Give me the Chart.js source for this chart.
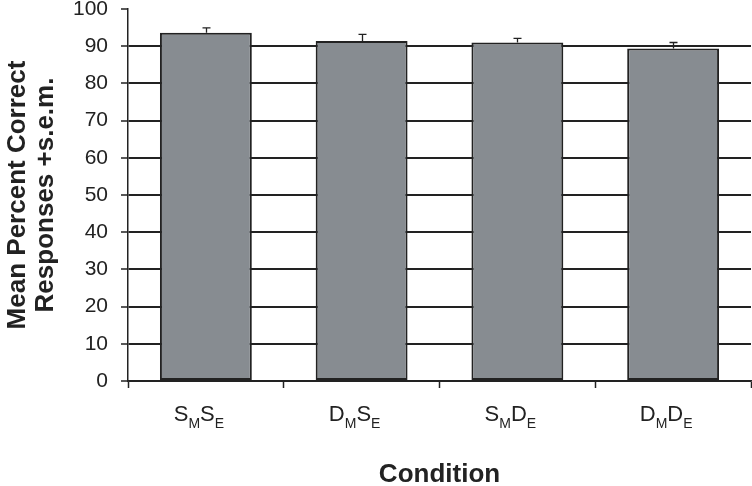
<!DOCTYPE html>
<html>
<head>
<meta charset="utf-8">
<script src="https://cdn.jsdelivr.net/npm/chart.js@4/dist/chart.umd.min.js"></script>
<style>
html,body{margin:0;padding:0;background:#fff;}
#wrap{width:752px;height:486px;position:relative;}
</style>
</head>
<body>
<div id="wrap"><canvas id="c" width="752" height="486"></canvas></div>
<script>
// Categories: letter followed by _X means subscript X
const categories = ['S_MS_E', 'D_MS_E', 'S_MD_E', 'D_MD_E'];
const meanCorrect = [93.6, 91.4, 91.0, 89.4];
const semValues = [1.3, 1.8, 1.1, 1.6];
const yTicks = [0, 10, 20, 30, 40, 50, 60, 70, 80, 90, 100];
const yTitle = ['Mean Percent Correct', 'Responses +s.e.m.'];
const xTitle = 'Condition';

const FONT = 'Liberation Sans, Arial, Helvetica, sans-serif';

function parseLabel(s) {
  const parts = [];
  let i = 0;
  while (i < s.length) {
    if (s[i + 1] === '_') { parts.push({t: s[i], sub: false}); parts.push({t: s[i + 2], sub: true}); i += 3; }
    else { parts.push({t: s[i], sub: false}); i += 1; }
  }
  return parts;
}

const extrasPlugin = {
  id: 'extras',
  afterDatasetsDraw(chart) {
    const ctx = chart.ctx;
    const x = chart.scales.x, y = chart.scales.y;
    ctx.save();
    ctx.strokeStyle = '#222';
    ctx.lineWidth = 1.3;
    meanCorrect.forEach((v, i) => {
      const px = Math.round(x.getPixelForValue(i)) + 0.5;
      const y0 = y.getPixelForValue(v);
      const y1 = y.getPixelForValue(v + semValues[i]);
      ctx.beginPath();
      ctx.moveTo(px, y0);
      ctx.lineTo(px, y1);
      ctx.moveTo(px - 4, y1);
      ctx.lineTo(px + 4, y1);
      ctx.stroke();
    });
    ctx.restore();
  },
  afterDraw(chart) {
    const ctx = chart.ctx;
    const x = chart.scales.x;
    ctx.save();
    ctx.fillStyle = '#222';
    ctx.textBaseline = 'alphabetic';
    ctx.textAlign = 'left';
    const mainFont = '22px ' + FONT, subFont = '14px ' + FONT;
    categories.forEach((lab, i) => {
      const parts = parseLabel(lab);
      let w = 0;
      parts.forEach(p => { ctx.font = p.sub ? subFont : mainFont; p.w = ctx.measureText(p.t).width; w += p.w; });
      let cx = x.getPixelForValue(i) - w / 2 - 7;
      const base = 421;
      parts.forEach(p => {
        ctx.font = p.sub ? subFont : mainFont;
        ctx.fillText(p.t, cx, p.sub ? base + 7 : base);
        cx += p.w;
      });
    });
    ctx.restore();
  }
};

new Chart(document.getElementById('c'), {
  type: 'bar',
  data: {
    labels: categories,
    datasets: [{
      data: meanCorrect,
      backgroundColor: '#878c91',
      borderColor: '#222',
      borderWidth: 2,
      borderSkipped: false,
      barPercentage: 0.59,
      categoryPercentage: 1.0
    }]
  },
  options: {
    responsive: false,
    animation: false,
    devicePixelRatio: 1,
    layout: {padding: {top: 9, right: 1, bottom: 0, left: 0}},
    plugins: {legend: {display: false}, tooltip: {enabled: false}},
    scales: {
      x: {
        offset: true,
        grid: {offset: true, drawOnChartArea: false, drawTicks: true, tickLength: 7, tickColor: '#222', tickWidth: 1.5},
        border: {display: true, color: '#222', width: 1.5},
        ticks: {display: false},
        title: {display: true, text: xTitle, color: '#222', font: {family: FONT, size: 26, weight: 'bold', lineHeight: 0.85}, padding: {top: 0, bottom: 0}},
        afterFit(s) { s.height = 105; s.paddingLeft = 0; s.paddingRight = 0; }
      },
      y: {
        min: 0, max: 100,
        afterBuildTicks(s) { s.ticks = yTicks.map(v => ({value: v})); },
        grid: {
          color: c => (c.tick && c.tick.value === 100) ? 'rgba(0,0,0,0)' : '#222',
          lineWidth: 2, tickColor: '#222', tickWidth: 1.5, tickLength: 7, drawTicks: true
        },
        border: {display: true, color: '#222', width: 1.5},
        ticks: {color: '#222', padding: 13, font: {family: FONT, size: 21, lineHeight: 1}},
        title: {display: true, text: yTitle, color: '#222', font: {family: FONT, size: 26, weight: 'bold', lineHeight: 1.08}, padding: {top: 4, bottom: 0}},
        afterFit(s) { s.width = 128; s.paddingTop = 0; s.paddingBottom = 0; }
      }
    }
  },
  plugins: [extrasPlugin]
});
</script>
</body>
</html>
